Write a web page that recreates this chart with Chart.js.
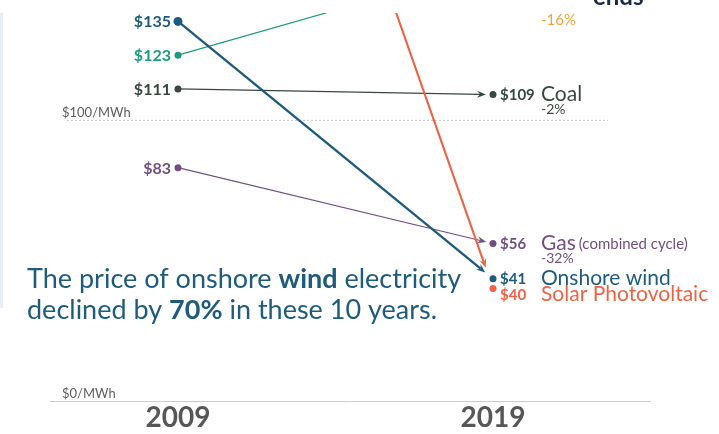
<!DOCTYPE html>
<html>
<head>
<meta charset="utf-8">
<script src="https://cdn.jsdelivr.net/npm/chart.js@4.4.1/dist/chart.umd.min.js"></script>
<style>
  html, body { margin: 0; padding: 0; background: #fff; }
  #wrap { position: relative; width: 719px; height: 434px; }
  #edge { position: absolute; left: 0; top: 13px; width: 3px; height: 295px; background: #e7eef8; }
</style>
</head>
<body>
<div id="wrap">
  <div id="edge"></div>
  <canvas id="slopeChart" width="719" height="434"></canvas>
</div>
<script>
// Levelized cost of electricity, $/MWh
const years = [2009, 2019];
const sourceNames = ["Nuclear", "Coal", "Gas", "Onshore wind", "Solar Photovoltaic"];
const sourceNotes = ["", "", "(combined cycle)", "", ""];
const price2009 = [123, 111, 83, 135, 359];
const price2019 = [155, 109, 56, 41, 40];
const changeLabels = ["+26%", "-2%", "-32%", "", ""];
const gridValues = [0, 100];
const gridLabels = ["$0/MWh", "$100/MWh"];

// look of each series
const colors = ["#1d9a82", "#37483f", "#71507f", "#1f5b7c", "#ee6348"];
const lineWidths = [1.2, 1.3, 1.1, 2.4, 2.1];
const startRadius = [3.5, 3.5, 3.5, 4.5, 3.5];
const arrowGap = [10, 7, 7, 10, 22]; // how far the arrow stops before the 2019 dot
const dotNudge = [0, 0, 0, -7, 0]; // keep wind and solar dots apart
const labelNudge = [0, 0, 0, 0, 6];

const FONT = "Lato, 'Open Sans', sans-serif";

function font(size, bold) {
  return (bold ? "bold " : "") + size + "px " + FONT;
}

function arrowHead(ctx, tx, ty, ux, uy, color) {
  const len = 9, half = 3.6;
  const bx = tx - ux * len, by = ty - uy * len;
  ctx.fillStyle = color;
  ctx.beginPath();
  ctx.moveTo(tx, ty);
  ctx.lineTo(bx - uy * half, by + ux * half);
  ctx.lineTo(tx - ux * len * 0.65, ty - uy * len * 0.65);
  ctx.lineTo(bx + uy * half, by - ux * half);
  ctx.closePath();
  ctx.fill();
}

const slopePlugin = {
  id: "slope",
  beforeDatasetsDraw(chart) {
    const { ctx, chartArea, scales } = chart;
    const y = scales.y;
    ctx.save();
    // dotted $100 line
    const y100 = y.getPixelForValue(gridValues[1]);
    ctx.strokeStyle = "#c4c4c4";
    ctx.lineWidth = 1;
    ctx.setLineDash([2, 2]);
    ctx.beginPath();
    ctx.moveTo(chartArea.left + 17, y100 + 0.5);
    ctx.lineTo(chartArea.right - 42, y100 + 0.5);
    ctx.stroke();
    ctx.setLineDash([]);
    // axis captions
    ctx.fillStyle = "#5e5e5e";
    ctx.font = font(13, false);
    ctx.textAlign = "left";
    ctx.textBaseline = "alphabetic";
    gridValues.forEach((v, i) => {
      ctx.fillText(gridLabels[i], chartArea.left + 12, y.getPixelForValue(v) - 3);
    });
    ctx.restore();
  },
  afterDatasetsDraw(chart) {
    const { ctx, chartArea, scales } = chart;
    const x = scales.x, y = scales.y;
    const x0 = x.getPixelForValue(years[0]);
    const x1 = x.getPixelForValue(years[1]);

    // lines, arrows and dots, clipped to the plot
    ctx.save();
    ctx.beginPath();
    ctx.rect(chartArea.left, chartArea.top, chartArea.right - chartArea.left, chartArea.bottom - chartArea.top);
    ctx.clip();
    chart.data.datasets.forEach((ds, i) => {
      const y0 = y.getPixelForValue(ds.data[0].y);
      const y1 = y.getPixelForValue(ds.data[1].y) + dotNudge[i];
      const dx = x1 - x0, dy = y1 - y0;
      const d = Math.hypot(dx, dy);
      const ux = dx / d, uy = dy / d;
      const tx = x1 - ux * arrowGap[i], ty = y1 - uy * arrowGap[i];
      ctx.strokeStyle = colors[i];
      ctx.lineWidth = lineWidths[i];
      ctx.beginPath();
      ctx.moveTo(x0, y0);
      ctx.lineTo(tx - ux * 6, ty - uy * 6);
      ctx.stroke();
      arrowHead(ctx, tx, ty, ux, uy, colors[i]);
      ctx.fillStyle = colors[i];
      ctx.beginPath();
      ctx.arc(x0, y0, startRadius[i], 0, Math.PI * 2);
      ctx.fill();
      ctx.beginPath();
      ctx.arc(x1, y1, 3.5, 0, Math.PI * 2);
      ctx.fill();
    });
    ctx.restore();

    // value and name labels
    ctx.save();
    ctx.textBaseline = "alphabetic";
    chart.data.datasets.forEach((ds, i) => {
      const y0 = y.getPixelForValue(ds.data[0].y);
      const y1 = y.getPixelForValue(ds.data[1].y) + dotNudge[i] + labelNudge[i];
      ctx.fillStyle = colors[i];
      if (y0 > chartArea.top + 5) {
        ctx.textAlign = "right";
        ctx.font = font(16, true);
        ctx.fillText("$" + ds.data[0].y, x0 - 7, y0 + 6);
      }
      if (y1 > chartArea.top + 5) {
        ctx.textAlign = "left";
        ctx.font = font(15, true);
        ctx.fillText("$" + ds.data[1].y, x1 + 7, y1 + 5);
        ctx.font = font(21, false);
        ctx.fillText(sourceNames[i], x1 + 48, y1 + 6);
        if (sourceNotes[i]) {
          const w = ctx.measureText(sourceNames[i]).width;
          ctx.font = font(15, false);
          ctx.fillText(sourceNotes[i], x1 + 48 + w + 3, y1 + 5);
        }
        if (changeLabels[i]) {
          ctx.font = font(14, false);
          ctx.fillText(changeLabels[i], x1 + 48, y1 + 19);
        }
      }
    });

    // note about wind
    const note = [
      [["The price of onshore ", false], ["wind", true], [" electricity", false]],
      [["declined by ", false], ["70%", true], [" in these 10 years.", false]]
    ];
    ctx.fillStyle = "#1f5b7c";
    ctx.textAlign = "left";
    note.forEach((line, k) => {
      let cx = 27;
      line.forEach(([text, bold]) => {
        ctx.font = font(27, bold);
        ctx.fillText(text, cx, 288 + k * 31);
        cx += ctx.measureText(text).width;
      });
    });

    // bits of the cut-off top of the graphic
    ctx.fillStyle = "#f3a43a";
    ctx.font = font(15, false);
    ctx.fillText("-16%", x1 + 48, 25);
    ctx.fillStyle = "#1c2a47";
    ctx.font = font(24, true);
    ctx.fillText("ends", 593, 5);
    ctx.restore();
  }
};

const datasets = sourceNames.map((name, i) => ({
  label: name,
  data: [{ x: years[0], y: price2009[i] }, { x: years[1], y: price2019[i] }],
  showLine: false,
  pointRadius: 0,
  borderColor: colors[i],
  backgroundColor: colors[i]
}));

new Chart(document.getElementById("slopeChart").getContext("2d"), {
  type: "scatter",
  data: { datasets: datasets },
  options: {
    responsive: false,
    animation: false,
    devicePixelRatio: 1,
    layout: { padding: { left: 50, right: 69, top: 13, bottom: 0 } },
    plugins: { legend: { display: false }, tooltip: { enabled: false } },
    scales: {
      x: {
        type: "linear",
        min: 2004.937,
        max: 2023.984,
        afterBuildTicks: (scale) => { scale.ticks = years.map((v) => ({ value: v })); },
        afterFit: (scale) => { scale.height = 33; },
        grid: { display: false, drawTicks: false },
        border: { display: true, color: "#cccccc", width: 1 },
        ticks: {
          font: { family: FONT, size: 28, weight: "bold" },
          color: "#575757",
          padding: 0,
          callback: (v) => String(v)
        }
      },
      y: {
        display: false,
        min: 0,
        max: 138
      }
    }
  },
  plugins: [slopePlugin]
});
</script>
</body>
</html>
